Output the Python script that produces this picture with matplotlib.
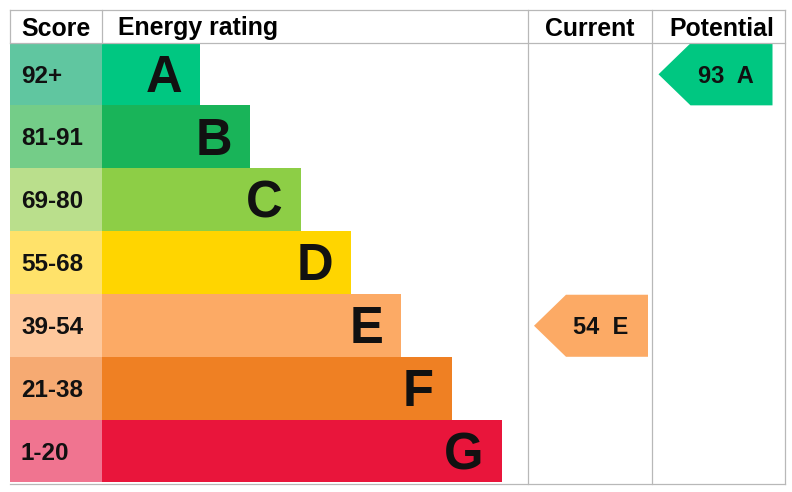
import matplotlib
matplotlib.use("Agg")
import matplotlib.pyplot as plt
from matplotlib.patches import Polygon

# ---- data ----
bands = ["A", "B", "C", "D", "E", "F", "G"]
score_ranges = ["92+", "81-91", "69-80", "55-68", "39-54", "21-38", "1-20"]
band_colors = ["#00c781", "#19b459", "#8dce46", "#ffd500", "#fcaa65", "#ef8023", "#e9153b"]
score_colors = ["#60c6a0", "#74cd88", "#badf8c", "#ffe26a", "#fec89c", "#f6aa72", "#f07490"]
headers = ["Score", "Energy rating", "Current", "Potential"]
current_score, current_band = 54, "E"
potential_score, potential_band = 93, "A"

# ---- layout (pixel units) ----
W, H = 792, 492
left, right = 10, 785
top, head_bot, bottom = 10, 42.5, 482.5
score_right = 102
col_cur, col_pot = 527.5, 652
n = len(bands)
row_h = (bottom - head_bot) / n
bar_base, bar_step = 98, 50.3
grid_col = "#b8b8b8"
FONT = ["Liberation Sans", "DejaVu Sans"]

fig = plt.figure(figsize=(W / 100, H / 100), dpi=100)
ax = fig.add_axes([0, 0, 1, 1])
ax.set_xlim(0, W)
ax.set_ylim(H, 0)
ax.axis("off")

centers = [head_bot + row_h * (i + 0.5) for i in range(n)]
widths = [bar_base + bar_step * i for i in range(n)]

# score column and rating bars
ax.barh(centers, [score_right - left] * n, left=left, height=row_h,
        color=score_colors, linewidth=0)
ax.barh(centers, widths, left=score_right, height=row_h,
        color=band_colors, linewidth=0)

for i in range(n):
    ax.text(21, centers[i] + 8.6, score_ranges[i], fontsize=17.5, fontweight="bold",
            family=FONT, ha="left", va="baseline", color="#111111")
    ax.text(score_right + widths[i] - 18, centers[i] + 18, bands[i], fontsize=36.5,
            fontweight="bold", family=FONT, ha="right", va="baseline", color="#111111")

# grid lines
lw = 0.9
ax.plot([left, right], [top, top], color=grid_col, lw=lw)
ax.plot([left, right], [head_bot, head_bot], color=grid_col, lw=lw)
ax.plot([left, right], [bottom + 1, bottom + 1], color=grid_col, lw=lw)
ax.plot([left, left], [top, head_bot], color=grid_col, lw=lw)
ax.plot([score_right, score_right], [top, head_bot], color=grid_col, lw=lw)
for x in (col_cur, col_pot, right):
    ax.plot([x, x], [top, bottom + 1], color=grid_col, lw=lw)

# headers
hb = 35.5
hs = 17.9
ax.text(21.5, hb, headers[0], fontsize=hs, fontweight="bold", family=FONT, ha="left", va="baseline")
ax.text(118.5, hb, headers[1], fontsize=hs, fontweight="bold", family=FONT, ha="left", va="baseline")
ax.text((col_cur + col_pot) / 2 + 0.5, hb, headers[2], fontsize=hs, fontweight="bold",
        family=FONT, ha="center", va="baseline")
ax.text((col_pot + right) / 2 + 3.5, hb, headers[3], fontsize=hs, fontweight="bold",
        family=FONT, ha="center", va="baseline")


def arrow(col_left, band, score):
    i = bands.index(band)
    x0 = col_left + 6.5
    x1 = x0 + 114
    tip = 32
    y0 = head_bot + row_h * i + 0.8
    y1 = y0 + row_h - 0.8
    yc = (y0 + y1) / 2
    poly = Polygon([(x0, yc), (x0 + tip, y0), (x1, y0), (x1, y1), (x0 + tip, y1)],
                   closed=True, facecolor=band_colors[i], edgecolor="none")
    ax.add_patch(poly)
    ax.text((x0 + x1) / 2 + 10, yc + 8.4, f"{score}  {band}", fontsize=17,
            fontweight="bold", family=FONT, ha="center", va="baseline", color="#111111")


arrow(col_cur, current_band, current_score)
arrow(col_pot, potential_band, potential_score)

fig.savefig("out.png", dpi=100, facecolor="white")
